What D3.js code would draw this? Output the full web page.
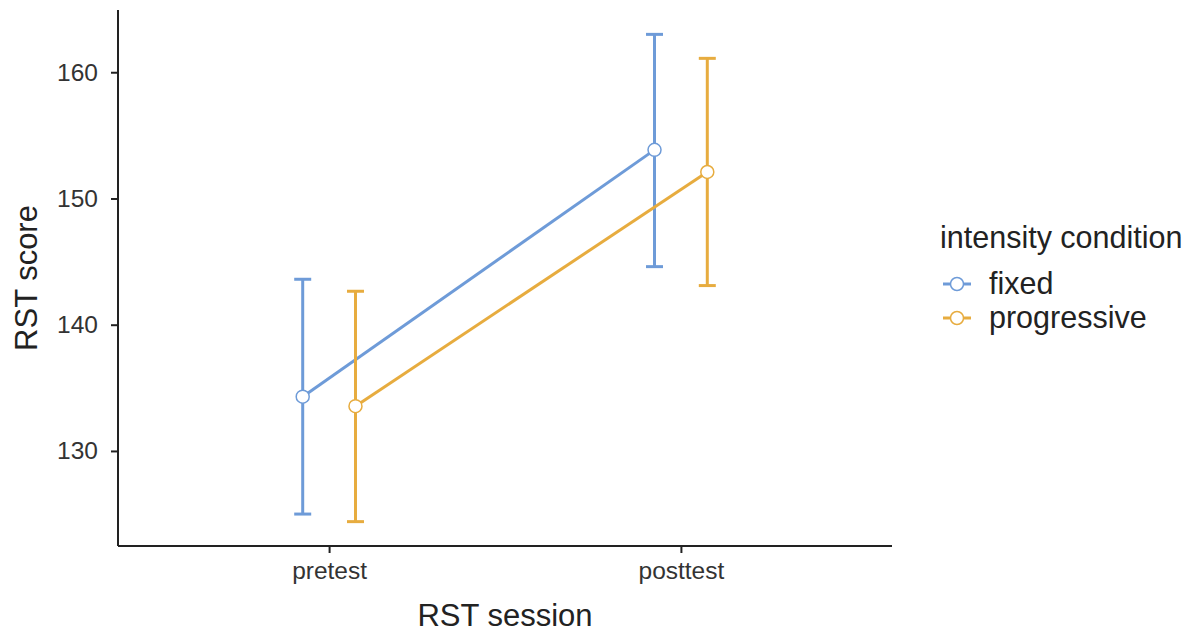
<!DOCTYPE html>
<html>
<head>
<meta charset="utf-8">
<script src="https://cdn.jsdelivr.net/npm/d3@7"></script>
<style>
  body { margin: 0; background: #fff; }
  text { font-family: "Liberation Sans", Arial, sans-serif; }
</style>
</head>
<body>
<div id="chart"></div>
<script>
// data
const sessions = ["pretest", "posttest"];
const conditions = ["fixed", "progressive"];
const fixedMean = [134.3, 153.85];
const fixedLow = [125.0, 144.6];
const fixedHigh = [143.6, 163.0];
const progMean = [133.55, 152.1];
const progLow = [124.4, 143.1];
const progHigh = [142.65, 161.1];
const yTicks = [130, 140, 150, 160];
const colors = ["#6E9BD8", "#E7AC3F"];

const series = [
  { name: conditions[0], mean: fixedMean, low: fixedLow, high: fixedHigh, color: colors[0] },
  { name: conditions[1], mean: progMean, low: progLow, high: progHigh, color: colors[1] }
];

const width = 1192, height = 633;
const plot = { left: 118, right: 892, top: 10, bottom: 546 };

const svg = d3.select("#chart")
  .append("svg")
  .attr("width", width)
  .attr("height", height);

const x = d3.scalePoint()
  .domain(sessions)
  .range([plot.left, plot.right])
  .padding(0.6);

// ggplot-like 5% expansion
const lo = d3.min(series, s => d3.min(s.low));
const hi = d3.max(series, s => d3.max(s.high));
const pad = (hi - lo) * 0.05;
const y = d3.scaleLinear()
  .domain([lo - pad, hi + pad])
  .range([plot.bottom, plot.top]);

const dodge = x.step() * 0.075;
const offset = i => (i === 0 ? -dodge : dodge);

// axes
const yAxis = svg.append("g")
  .attr("transform", `translate(${plot.left},0)`)
  .call(d3.axisLeft(y).tickValues(yTicks).tickSize(7).tickPadding(13).tickSizeOuter(0));
yAxis.selectAll(".tick line").attr("stroke", "#222").attr("stroke-width", 2);
yAxis.selectAll(".tick text").attr("font-size", 24.5).attr("fill", "#333");

const xAxis = svg.append("g")
  .attr("transform", `translate(0,${plot.bottom})`)
  .call(d3.axisBottom(x).tickSize(7).tickPadding(9).tickSizeOuter(0));
xAxis.selectAll(".tick line").attr("stroke", "#222").attr("stroke-width", 2);
xAxis.selectAll(".tick text").attr("font-size", 24.5).attr("fill", "#333");

// axis lines span the full panel
yAxis.select(".domain").attr("d", `M0,${plot.top}V${plot.bottom}`)
  .attr("stroke", "#222").attr("stroke-width", 2);
xAxis.select(".domain").attr("d", `M${plot.left},0H${plot.right}`)
  .attr("stroke", "#222").attr("stroke-width", 2);

// axis titles
svg.append("text")
  .attr("x", (plot.left + plot.right) / 2)
  .attr("y", 626)
  .attr("text-anchor", "middle")
  .attr("font-size", 31)
  .attr("fill", "#222")
  .text("RST session");

svg.append("text")
  .attr("transform", `translate(37,${(plot.top + plot.bottom) / 2}) rotate(-90)`)
  .attr("text-anchor", "middle")
  .attr("font-size", 31)
  .attr("fill", "#222")
  .text("RST score");

// lines, error bars, points
series.forEach((s, i) => {
  const g = svg.append("g");
  const line = d3.line()
    .x((d, j) => x(sessions[j]) + offset(i))
    .y(d => y(d));

  g.append("path")
    .datum(s.mean)
    .attr("d", line)
    .attr("fill", "none")
    .attr("stroke", s.color)
    .attr("stroke-width", 3);

  const cap = 8.5;
  sessions.forEach((sess, j) => {
    const cx = x(sess) + offset(i);
    g.append("line")
      .attr("x1", cx).attr("x2", cx)
      .attr("y1", y(s.low[j])).attr("y2", y(s.high[j]))
      .attr("stroke", s.color).attr("stroke-width", 3);
    [s.low[j], s.high[j]].forEach(v => {
      g.append("line")
        .attr("x1", cx - cap).attr("x2", cx + cap)
        .attr("y1", y(v)).attr("y2", y(v))
        .attr("stroke", s.color).attr("stroke-width", 3);
    });
  });

  g.selectAll("circle")
    .data(s.mean)
    .join("circle")
    .attr("cx", (d, j) => x(sessions[j]) + offset(i))
    .attr("cy", d => y(d))
    .attr("r", 6.5)
    .attr("fill", "#fff")
    .attr("stroke", s.color)
    .attr("stroke-width", 1.5);
});

// legend
const legend = svg.append("g").attr("transform", "translate(940,0)");
legend.append("text")
  .attr("x", 0)
  .attr("y", 248)
  .attr("font-size", 30.5)
  .attr("fill", "#222")
  .text("intensity condition");

series.forEach((s, i) => {
  const ky = 284 + i * 34;
  legend.append("line")
    .attr("x1", 3).attr("x2", 31)
    .attr("y1", ky).attr("y2", ky)
    .attr("stroke", s.color).attr("stroke-width", 3);
  legend.append("circle")
    .attr("cx", 17).attr("cy", ky)
    .attr("r", 6.5)
    .attr("fill", "#fff")
    .attr("stroke", s.color)
    .attr("stroke-width", 1.5);
  legend.append("text")
    .attr("x", 49)
    .attr("y", ky + 10)
    .attr("font-size", 30.5)
    .attr("fill", "#222")
    .text(s.name);
});
</script>
</body>
</html>
